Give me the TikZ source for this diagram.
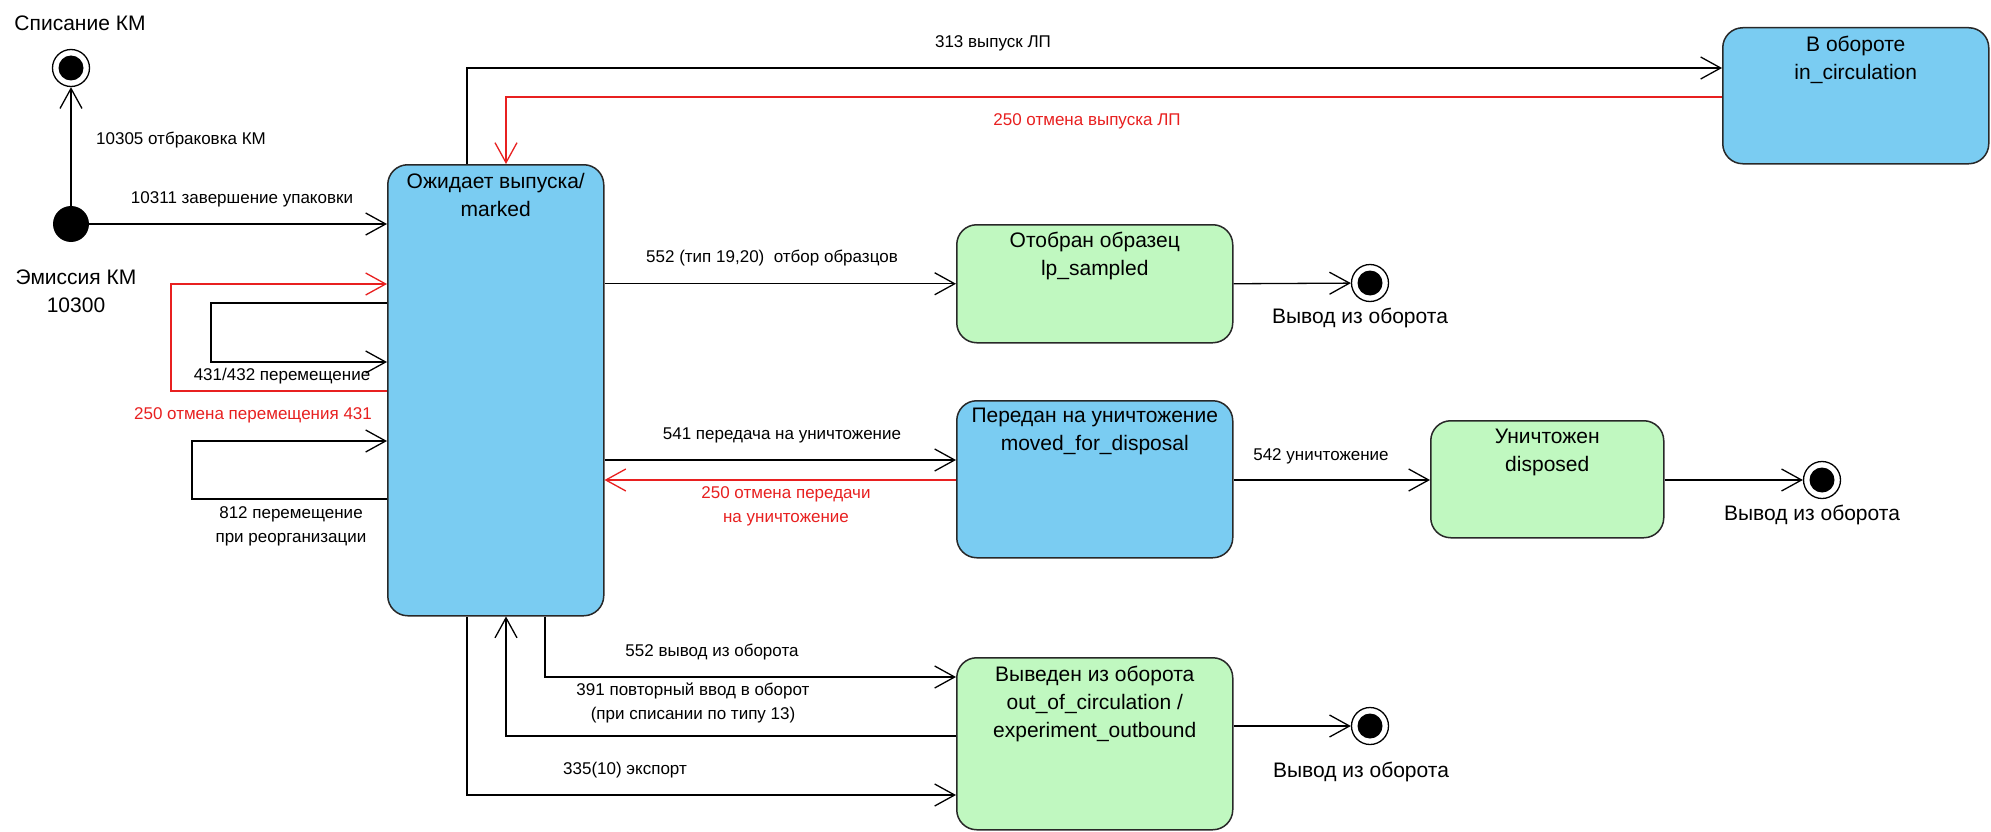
\documentclass[tikz,border=0pt]{standalone}
\usepackage{fontspec}
\setmainfont{Liberation Sans}
\usetikzlibrary{arrows.meta,calc}
\definecolor{stblue}{RGB}{122,204,242}
\definecolor{stgreen}{RGB}{192,248,192}
\definecolor{stred}{RGB}{232,32,32}
\definecolor{stborder}{RGB}{40,40,40}
\begin{document}
\begin{tikzpicture}[x=1pt,y=-1pt,
  st/.style={draw=stborder, line width=1.5pt, rounded corners=20pt, anchor=north west, inner sep=0pt},
  bst/.style={st, fill=stblue},
  gst/.style={st, fill=stgreen},
  ttl/.style={font=\fontsize{21}{28}\selectfont, align=center, anchor=north, inner sep=0pt},
  lbl/.style={font=\fontsize{17}{24}\selectfont, align=center, inner sep=0pt},
  rlbl/.style={lbl, text=stred},
  tr/.style={draw=black, line width=1.3pt, -{Straight Barb[length=20pt,width=22pt]}},
  rtr/.style={tr, draw=stred},
  initst/.style={circle, fill=black, minimum size=36pt, inner sep=0pt},
  finst/.style={circle, draw=black, line width=1.3pt, fill=white, minimum size=37pt, inner sep=0pt,
    path picture={\fill[black] (path picture bounding box.center) circle[radius=12.5pt];}}
]
\useasboundingbox (0,0) rectangle (1991,832);
\fill[white] (0,0) rectangle (1991,832);

% states
\node[bst, minimum width=216pt, minimum height=451pt] (marked) at (387,164) {};
\node[bst, minimum width=266pt, minimum height=136pt] (incirc) at (1722,27) {};
\node[gst, minimum width=276pt, minimum height=118pt] (sampled) at (956,224) {};
\node[bst, minimum width=276pt, minimum height=157pt] (moved) at (956,400) {};
\node[gst, minimum width=233pt, minimum height=117pt] (disposed) at (1430,420) {};
\node[gst, minimum width=276pt, minimum height=172pt] (outc) at (956,657) {};

\node[ttl] (markedT) at ($(marked.north)+(0,9)$) {Ожидает выпуска/\\marked};
\node[ttl] (incircT) at ($(incirc.north)+(0,9)$) {В обороте\\in\_circulation};
\node[ttl] (sampledT) at ($(sampled.north)+(0,8)$) {Отобран образец\\lp\_sampled};
\node[ttl] (movedT) at ($(moved.north)+(0,8)$) {Передан на уничтожение\\moved\_for\_disposal};
\node[ttl] (disposedT) at ($(disposed.north)+(0,9)$) {Уничтожен\\disposed};
\node[ttl] (outcT) at ($(outc.north)+(0,9)$) {Выведен из оборота\\out\_of\_circulation /\\experiment\_outbound};

% pseudo states
\node[initst] (init) at (71,224) {};
\node[finst] (fin1) at (71,68) {};
\node[finst] (fin2) at (1370,283) {};
\node[finst] (fin3) at (1822,480) {};
\node[finst] (fin4) at (1370,726) {};

\node[ttl, anchor=center] (fin1T) at (80,23) {Списание КМ};
\node[ttl, anchor=center] (initT) at (76,291) {Эмиссия КМ\\10300};
\node[ttl, anchor=center] (fin2T) at (1360,318) {Вывод из оборота};
\node[ttl, anchor=center] (fin3T) at (1812,515) {Вывод из оборота};
\node[ttl, anchor=center] (fin4T) at (1361,772) {Вывод из оборота};

% turning points
\coordinate (t313) at (467,68);
\coordinate (t250) at (506,97);
\coordinate (r431a) at (171,391);
\coordinate (r431b) at (171,284);
\coordinate (l431a) at (211,303);
\coordinate (l431b) at (211,362);
\coordinate (l812a) at (192,499);
\coordinate (l812b) at (192,441);
\coordinate (y541) at (0,460);
\coordinate (y250) at (0,480);
\coordinate (b552) at (545,677);
\coordinate (b391) at (506,736);
\coordinate (b335) at (467,795);

% transitions
\draw[tr] (init) -- (fin1);
\draw[tr] (init) -- (init -| marked.west);
\draw[tr] (t313 |- marked.north) -- (t313) -- (t313 -| incirc.west);
\draw[rtr] (t250 -| incirc.west) -- (t250) -- (t250 |- marked.north);
\draw[rtr] (r431a -| marked.west) -- (r431a) -- (r431b) -- (r431b -| marked.west);
\draw[tr] (l431a -| marked.west) -- (l431a) -- (l431b) -- (l431b -| marked.west);
\draw[tr] (l812a -| marked.west) -- (l812a) -- (l812b) -- (l812b -| marked.west);
\draw[tr] (sampled.west -| marked.east) -- (sampled.west);
\draw[tr] (sampled.east) -- (fin2);
\draw[tr] (y541 -| marked.east) -- (y541 -| moved.west);
\draw[rtr] (y250 -| moved.west) -- (y250 -| marked.east);
\draw[tr] (y250 -| moved.east) -- (y250 -| disposed.west);
\draw[tr] (fin3 -| disposed.east) -- (fin3);
\draw[tr] (b552 |- marked.south) -- (b552) -- (b552 -| outc.west);
\draw[tr] (b391 -| outc.west) -- (b391) -- (b391 |- marked.south);
\draw[tr] (b335 |- marked.south) -- (b335) -- (b335 -| outc.west);
\draw[tr] (fin4 -| outc.east) -- (fin4);

% labels
\node[lbl] (L10305) at (181,140) {10305 отбраковка КМ};
\node[lbl] (L10311) at (242,199) {10311 завершение упаковки};
\node[lbl] (L431) at (282,376) {431/432 перемещение};
\node[rlbl] (L250a) at (253,415) {250 отмена перемещения 431};
\node[lbl] (L812) at (291,526) {812 перемещение\\при реорганизации};
\node[lbl] (L313) at (993,43) {313 выпуск ЛП};
\node[rlbl] (L250b) at (1087,121) {250 отмена выпуска ЛП};
\node[lbl] (L552a) at (772,258) {552 (тип 19,20)\ \ отбор образцов};
\node[lbl] (L541) at (782,435) {541 передача на уничтожение};
\node[rlbl] (L250c) at (786,506) {250 отмена передачи\\на уничтожение};
\node[lbl] (L542) at (1321,456) {542 уничтожение};
\node[lbl] (L552b) at (712,652) {552 вывод из оборота};
\node[lbl] (L391) at (693,703) {391 повторный ввод в оборот\\(при списании по типу 13)};
\node[lbl] (L335) at (625,770) {335(10) экспорт};
\end{tikzpicture}
\end{document}
